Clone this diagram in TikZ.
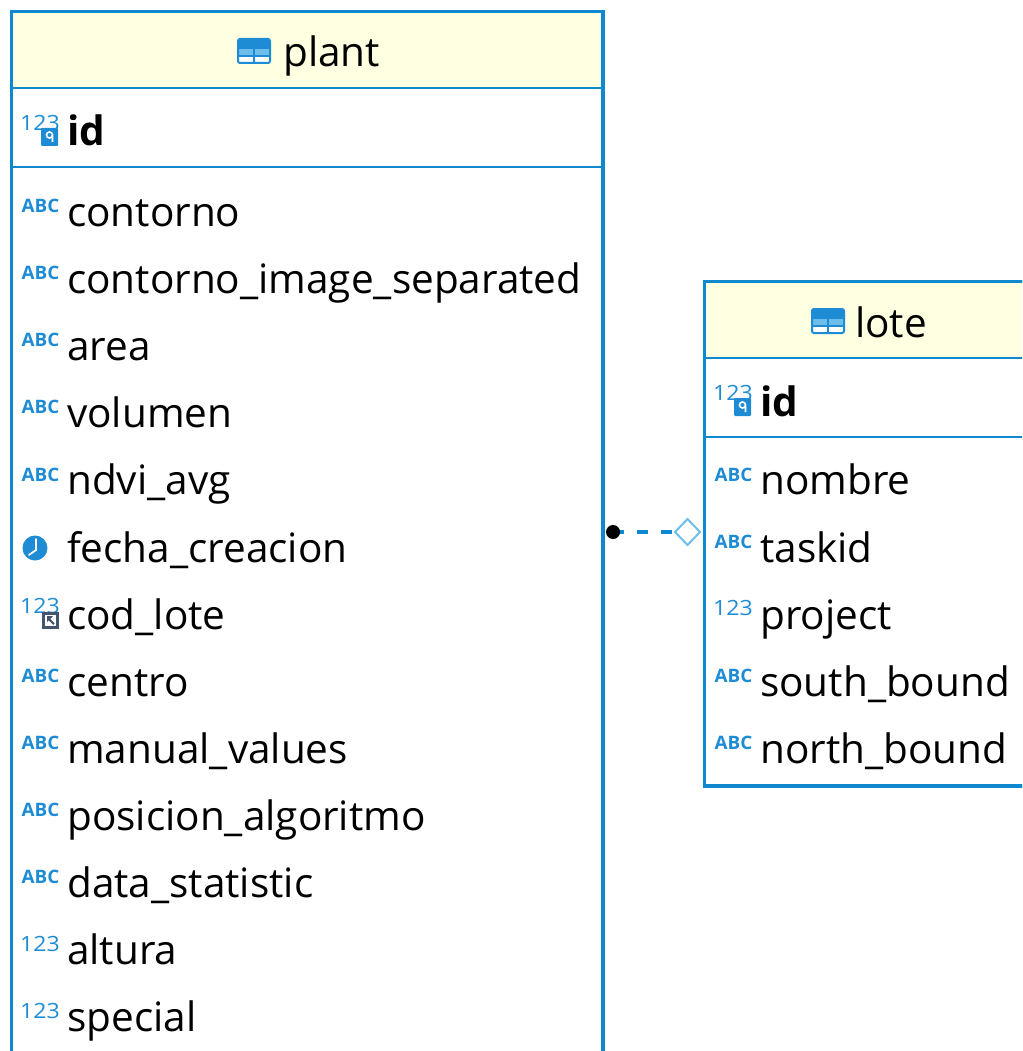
\documentclass[tikz,border=0pt]{standalone}
\usepackage{fontspec}
\setmainfont{Open Sans}
\usetikzlibrary{positioning}
\definecolor{erblue}{RGB}{14,136,207}
\definecolor{erhead}{RGB}{255,255,225}
\definecolor{iconblue}{RGB}{30,140,212}
\definecolor{iconlight}{RGB}{110,190,235}
\definecolor{fkgray}{RGB}{70,85,110}

\begin{document}
\begin{tikzpicture}[x=1pt,y=-1pt,
        tablebox/.style={draw=erblue, line width=3.5pt, fill=white},
        rowsep/.style={draw=erblue, line width=2.5pt},
        title/.style={anchor=base west, inner sep=0pt, font=\fontsize{40.5}{44}\selectfont},
        colname/.style={anchor=base west, inner sep=0pt, font=\fontsize{40.5}{44}\selectfont},
        keyname/.style={colname, font=\fontsize{40.5}{44}\selectfont\bfseries},
        iconnum/.style={anchor=south west, inner sep=0pt, text=iconblue, xscale=1.1, font=\fontsize{21}{21}\selectfont},
        fkline/.style={draw=erblue, line width=3.5pt, dash pattern=on 11pt off 13pt},
        abcpic/.pic={\node[anchor=south west, inner sep=0pt, text=iconblue, xscale=1.02,
            font=\fontsize{18.5}{18.5}\selectfont\bfseries] at (1.5,-13.5) {ABC};},
        numpic/.pic={\node[iconnum] at (0,-13) {123};},
        keypic/.pic={\node[iconnum] at (0,-15) {123};
            \fill[iconblue, rounded corners=1pt] (21,-18) rectangle (38,0);
            \draw[white, line width=1.6pt] (29.5,-11) circle (3) (32.5,-11) -- (32.5,-4);},
        fkpic/.pic={\node[iconnum] at (0,-15) {123};
            \fill[fkgray] (22,-17) rectangle (39,0);
            \fill[white] (25,-14) rectangle (36,-3);
            \draw[fkgray, line width=2pt] (34,-5) -- (28,-11);
            \fill[fkgray] (27,-13) -- (33,-13) -- (27,-7) -- cycle;},
        clockpic/.pic={\fill[iconblue] (15,-14) circle (12.5);
            \draw[white, line width=1.8pt, line cap=round] (16,-23) -- (16,-12) -- (9,-7);},
        tablepic/.pic={\fill[white] (0,0) rectangle (32,-24);
            \fill[iconlight] (0,-14) rectangle (32,-7);
            \fill[iconblue] (0,-24) rectangle (32,-14);
            \draw[iconblue, line width=2pt, rounded corners=2pt] (0,0) rectangle (32,-24);
            \draw[iconblue, line width=1.5pt] (0,-7) -- (32,-7) (16,0) -- (16,-14);},
    ]
    \useasboundingbox (0,0) rectangle (1022,1051);
    \clip (0,0) rectangle (1022,1051);

    \fill[white] (0,0) rectangle (1022,1051);

    \path[tablebox] (11.5,11.5) rectangle (603,1080);
    \fill[erhead] (11.5,11.5) rectangle (603,88);
    \draw[rowsep] (11.5,88) -- (603,88);
    \draw[rowsep] (11.5,167) -- (603,167);
    \pic at (238,63) {tablepic};
    \node[title] (plant-title) at (283,67) {plant};
    \pic at (20,146) {keypic};
    \node[keyname] (plant-id) at (67,146) {id};
    \foreach \name/\kind [count=\i from 0] in {contorno/abcpic, contorno\_image\_separated/abcpic,
            area/abcpic, volumen/abcpic, ndvi\_avg/abcpic, fecha\_creacion/clockpic, cod\_lote/fkpic,
            centro/abcpic, manual\_values/abcpic, posicion\_algoritmo/abcpic, data\_statistic/abcpic,
            altura/numpic, special/numpic} {
        \pgfmathsetmacro\b{226.5+67.1*\i}
        \pic at (20,\b) {\kind};
        \node[colname] (plant-\i) at (67,\b) {\name};
    }

    \path[tablebox] (704.5,281.5) rectangle (1036,786);
    \fill[erhead] (704.5,281.5) rectangle (1036,358);
    \draw[rowsep] (704.5,358) -- (1036,358);
    \draw[rowsep] (704.5,437) -- (1036,437);
    \path[tablebox, fill=none] (704.5,281.5) rectangle (1036,786);
    \pic at (812,333) {tablepic};
    \node[title] (lote-title) at (855,337) {lote};
    \pic at (713,416) {keypic};
    \node[keyname] (lote-id) at (760,416) {id};
    \foreach \name/\kind [count=\i from 4] in {nombre/abcpic, taskid/abcpic, project/numpic,
            south\_bound/abcpic, north\_bound/abcpic} {
        \pgfmathsetmacro\b{226.5+67.1*\i}
        \pic at (713,\b) {\kind};
        \node[colname] (lote-\i) at (760,\b) {\name};
    }

    \path[tablebox, fill=none] (11.5,11.5) rectangle (603,1080);

    \coordinate (fk) at (613,532);
    \coordinate (ref) at (675,532);
    \draw[fkline] (fk) -- (ref);
    \fill[black] (fk) circle (7);
    \draw[iconlight, line width=2pt, fill=white] (ref) -- ++(12.5,-13) -- ++(12.5,13) -- ++(-12.5,13) -- cycle;
\end{tikzpicture}
\end{document}
